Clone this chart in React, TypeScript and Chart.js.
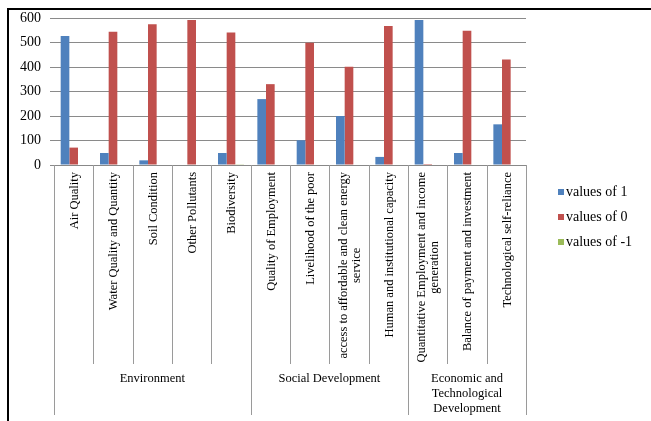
import React, { useEffect, useRef } from "react";
import { Chart, registerables } from "chart.js";

Chart.register(...registerables);

const categories: string[][] = [
  ["Air Quality"],
  ["Water Quality and Quantity"],
  ["Soil Condition"],
  ["Other Pollutants"],
  ["Biodiversity"],
  ["Quality of Employment"],
  ["Livelihood of the poor"],
  ["access to affordable and clean energy", "service"],
  ["Human and institutional capacity"],
  ["Quantitative Employment and income", "generation"],
  ["Balance of payment and investment"],
  ["Technological self-reliance"],
];

const groupLabels: string[][] = [
  ["Environment"],
  ["Social Development"],
  ["Economic and", "Technological", "Development"],
];
const groupSizes = [5, 4, 3];

const seriesNames = ["values of 1", "values of 0", "values of -1"];
const seriesColors = ["#4F81BD", "#C0504D", "#9BBB59"];

const valuesOf1 = [527, 49, 19, 0, 49, 269, 101, 200, 33, 592, 49, 166];
const valuesOf0 = [71, 544, 575, 592, 541, 330, 499, 401, 567, 4, 548, 431];
const valuesOfMinus1 = [0, 0, 0, 0, 3, 0, 0, 0, 0, 0, 0, 0];

const yTicks = [0, 100, 200, 300, 400, 500, 600];

const FONT = "'Liberation Serif', 'Times New Roman', serif";

const decorPlugin = {
  id: "decor",
  afterDraw(chart: any) {
    const ctx = chart.ctx as CanvasRenderingContext2D;
    const xs = chart.scales.x;
    const area = chart.chartArea;
    const n = categories.length;
    const catW = (area.right - area.left) / n;

    ctx.save();
    // outer frame
    ctx.strokeStyle = "#000";
    ctx.lineWidth = 2;
    ctx.beginPath();
    ctx.moveTo(7, 9);
    ctx.lineTo(651, 9);
    ctx.moveTo(8, 9);
    ctx.lineTo(8, 421);
    ctx.stroke();

    // dividers
    const groupEdges = new Set<number>();
    let acc = 0;
    groupEdges.add(0);
    groupSizes.forEach((s) => {
      acc += s;
      groupEdges.add(acc);
    });
    ctx.strokeStyle = "#9a9a9a";
    ctx.lineWidth = 1;
    for (let i = 0; i <= n; i++) {
      const x = Math.round(xs.getPixelForValue(Math.min(i, n - 1)) + (i === n ? catW / 2 : -catW / 2)) + 0.5;
      const yEnd = groupEdges.has(i) ? 415 : 364;
      ctx.beginPath();
      ctx.moveTo(x, area.bottom);
      ctx.lineTo(x, yEnd);
      ctx.stroke();
    }

    // category labels (rotated)
    ctx.fillStyle = "#000";
    ctx.font = `12.5px ${FONT}`;
    ctx.textBaseline = "middle";
    ctx.textAlign = "center";
    categories.forEach((lines, i) => {
      const cx = xs.getPixelForValue(i);
      const W = Math.max(...lines.map((l) => ctx.measureText(l).width));
      ctx.save();
      ctx.translate(cx, area.bottom + 7);
      ctx.rotate(-Math.PI / 2);
      lines.forEach((l, j) => {
        const off = (j - (lines.length - 1) / 2) * 13;
        ctx.fillText(l, -W / 2, off + 1);
      });
      ctx.restore();
    });

    // group labels
    ctx.font = `12.5px ${FONT}`;
    let start = 0;
    groupLabels.forEach((lines, g) => {
      const size = groupSizes[g];
      const x0 = xs.getPixelForValue(start) - catW / 2;
      const x1 = xs.getPixelForValue(start + size - 1) + catW / 2;
      const cx = (x0 + x1) / 2;
      lines.forEach((l, j) => {
        ctx.fillText(l, cx, 379 + j * 15);
      });
      start += size;
    });

    // legend
    ctx.font = `14px ${FONT}`;
    ctx.textAlign = "left";
    chart.data.datasets.forEach((ds: any, i: number) => {
      const y = 192 + i * 25;
      ctx.fillStyle = ds.backgroundColor;
      ctx.fillRect(558, y - 3, 6, 6);
      ctx.fillStyle = "#000";
      ctx.fillText(ds.label, 566, y);
    });
    ctx.restore();
  },
};

export default function App() {
  const ref = useRef<HTMLCanvasElement>(null);
  useEffect(() => {
    if (!ref.current) return;
    const chart = new Chart(ref.current, {
      type: "bar",
      data: {
        labels: categories.map((c) => c.join(" ")),
        datasets: [valuesOf1, valuesOf0, valuesOfMinus1].map((d, i) => ({
          label: seriesNames[i],
          data: d,
          backgroundColor: seriesColors[i],
          borderWidth: 0,
          categoryPercentage: 0.66,
          barPercentage: 1,
        })),
      },
      options: {
        responsive: false,
        animation: false,
        events: [],
        layout: { padding: { left: 0, top: 18, right: 125, bottom: 256 } },
        plugins: { legend: { display: false }, tooltip: { enabled: false } },
        scales: {
          x: {
            ticks: { display: false },
            grid: { display: false },
            border: { display: true, color: "#888", width: 1 },
            afterFit: (s: any) => {
              s.height = 0;
            },
          },
          y: {
            min: 0,
            max: 600,
            afterBuildTicks: (s: any) => {
              s.ticks = yTicks.map((v) => ({ value: v }));
            },
            ticks: {
              color: "#000",
              font: { family: FONT, size: 14 },
              padding: 9,
            },
            grid: { color: "#8a8a8a", lineWidth: 1, tickLength: 4 },
            border: { display: false },
            afterFit: (s: any) => {
              s.width = 54;
            },
          },
        },
      },
      plugins: [decorPlugin],
    });
    return () => chart.destroy();
  }, []);
  return (
    <div style={{ position: "fixed", left: 0, top: 0, width: 651, height: 421, background: "#fff" }}>
      <canvas ref={ref} width={651} height={421} style={{ display: "block" }} />
    </div>
  );
}
